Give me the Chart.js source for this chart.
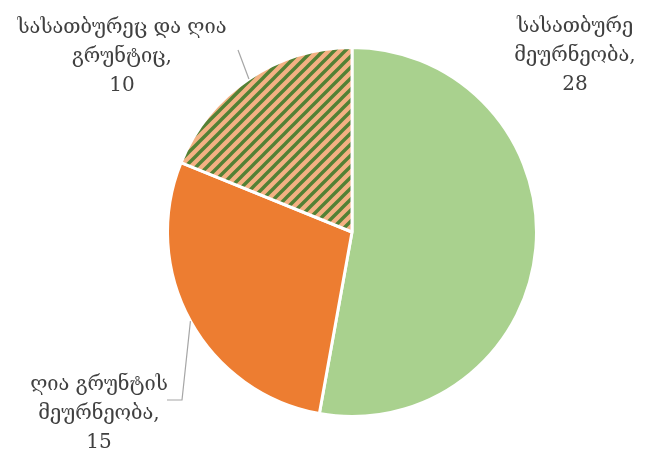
<!DOCTYPE html>
<html>
<head>
<meta charset="utf-8">
<script src="https://cdn.jsdelivr.net/npm/chart.js@4/dist/chart.umd.min.js"></script>
<style>
  html, body { margin: 0; padding: 0; background: #fff; }
  #wrap { width: 646px; height: 458px; }
</style>
</head>
<body>
<div id="wrap"><canvas id="farmTypes"></canvas></div>
<script>
var categories = [
  ['სასათბურე', 'მეურნეობა,'],
  ['ღია გრუნტის', 'მეურნეობა,'],
  ['სასათბურეც და ღია', 'გრუნტიც,']
];
var farmCounts = [28, 15, 10];

// where each label block sits and how its leader line bends
var labelSpots = [
  { x: 575, y: 27, leader: null },
  { x: 99, y: 385, leader: [[182, 400], [167, 400]] },
  { x: 122, y: 28, leader: [[238, 50]] }
];

// peach fill with dark green diagonal stripes
function stripes() {
  var s = 11;
  var c = document.createElement('canvas');
  c.width = s; c.height = s;
  var g = c.getContext('2d');
  g.fillStyle = '#F4B183';
  g.fillRect(0, 0, s, s);
  g.strokeStyle = '#538135';
  g.lineWidth = 3.4;
  g.beginPath();
  g.moveTo(-2, s + 2); g.lineTo(s + 2, -2);
  g.moveTo(-3, 3); g.lineTo(3, -3);
  g.moveTo(s - 3, s + 3); g.lineTo(s + 3, s - 3);
  g.stroke();
  return g.createPattern(c, 'repeat');
}

var pieLabels = {
  id: 'pieLabels',
  afterDraw: function(chart) {
    var ctx = chart.ctx;
    var arcs = chart.getDatasetMeta(0).data;
    ctx.save();
    arcs.forEach(function(arc, i) {
      var spot = labelSpots[i];
      if (spot.leader) {
        var p = arc.getProps(['x', 'y', 'startAngle', 'endAngle', 'outerRadius'], true);
        var a = (p.startAngle + p.endAngle) / 2;
        ctx.strokeStyle = '#A6A6A6';
        ctx.lineWidth = 1.2;
        ctx.beginPath();
        ctx.moveTo(p.x + Math.cos(a) * p.outerRadius, p.y + Math.sin(a) * p.outerRadius);
        spot.leader.forEach(function(pt) { ctx.lineTo(pt[0], pt[1]); });
        ctx.stroke();
      }
      var lines = categories[i].concat([String(farmCounts[i])]);
      ctx.fillStyle = '#404040';
      ctx.font = '20px "DejaVu Serif", serif';
      ctx.textAlign = 'center';
      ctx.textBaseline = 'middle';
      lines.forEach(function(t, k) {
        ctx.fillText(t, spot.x, spot.y + k * 29);
      });
    });
    ctx.restore();
  }
};

new Chart(document.getElementById('farmTypes'), {
  type: 'pie',
  data: {
    labels: categories.map(function(c) { return c.join(' '); }),
    datasets: [
      {
        data: farmCounts,
        backgroundColor: ['#A9D18E', '#ED7D31', stripes()],
        borderColor: '#ffffff',
        borderWidth: 3
      }
    ]
  },
  options: {
    responsive: true,
    maintainAspectRatio: false,
    animation: false,
    layout: { padding: { top: 46, bottom: 40, left: 58, right: 0 } },
    plugins: {
      legend: { display: false },
      tooltip: { enabled: false }
    }
  },
  plugins: [pieLabels]
});
</script>
</body>
</html>
